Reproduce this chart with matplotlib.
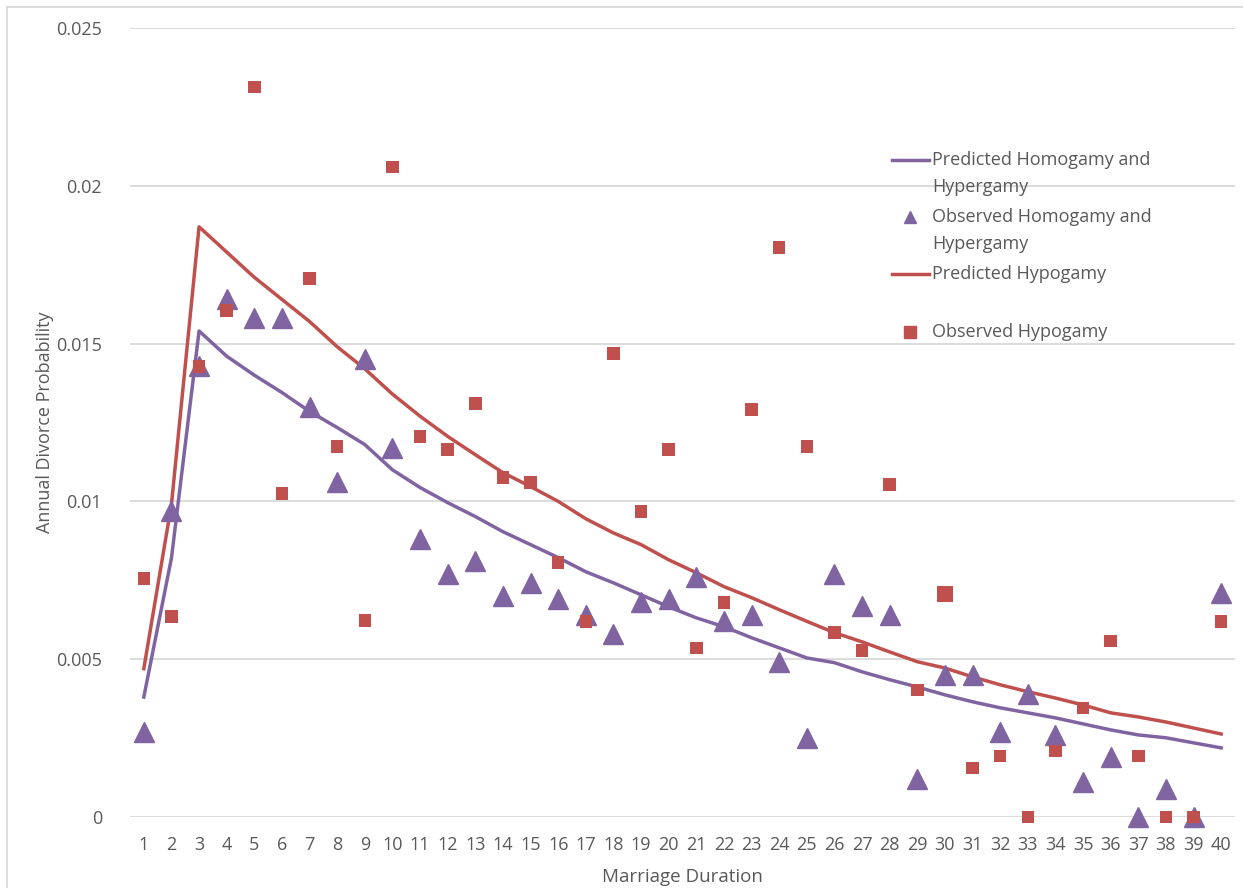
import numpy as np
import matplotlib
matplotlib.use("Agg")
import matplotlib.pyplot as plt
from matplotlib.lines import Line2D
from matplotlib.patches import Rectangle

# marriage duration (years)
duration = list(range(1, 41))

pred_homo_hyper = [0.0038, 0.0082, 0.0154, 0.0146, 0.0140, 0.01345, 0.01285, 0.01234, 0.0118, 0.0110,
                   0.01044, 0.00996, 0.00952, 0.00904, 0.00863, 0.00822, 0.00777, 0.00742, 0.00704, 0.00666,
                   0.00631, 0.00603, 0.00568, 0.00536, 0.00504, 0.00489, 0.0046, 0.00435, 0.00412, 0.00387,
                   0.00365, 0.00346, 0.0033, 0.00314, 0.00295, 0.00276, 0.0026, 0.00251, 0.00235, 0.00219]

obs_homo_hyper = [0.0027, 0.0097, 0.0143, 0.0164, 0.0158, 0.0158, 0.0130, 0.0106, 0.0145, 0.0117,
                  0.0088, 0.0077, 0.0081, 0.0070, 0.0074, 0.0069, 0.0064, 0.0058, 0.0068, 0.0069,
                  0.0076, 0.0062, 0.0064, 0.0049, 0.0025, 0.0077, 0.0067, 0.0064, 0.0012, 0.0045,
                  0.0045, 0.0027, 0.0039, 0.0026, 0.0011, 0.0019, 0.0, 0.0009, 0.0, 0.0071]

pred_hypo = [0.0047, 0.0099, 0.0187, 0.0179, 0.0171, 0.0164, 0.0157, 0.0149, 0.0142, 0.0134,
             0.0127, 0.01206, 0.01148, 0.01091, 0.01047, 0.0100, 0.00945, 0.0090, 0.00863, 0.00815,
             0.00774, 0.0073, 0.00695, 0.00657, 0.0062, 0.00584, 0.00555, 0.00523, 0.00492, 0.00472,
             0.00444, 0.00419, 0.00397, 0.00377, 0.00355, 0.0033, 0.00317, 0.00301, 0.00282, 0.00263]

obs_hypo = [0.00755, 0.00635, 0.01428, 0.01605, 0.02313, 0.01025, 0.01707, 0.01174, 0.00622, 0.02059,
            0.01206, 0.01164, 0.0131, 0.01075, 0.0106, 0.00806, 0.00619, 0.01469, 0.00968, 0.01164,
            0.00536, 0.00679, 0.01291, 0.01805, 0.01174, 0.00584, 0.00527, 0.01053, 0.00403, 0.00708,
            0.00155, 0.00194, 0.0, 0.00209, 0.00346, 0.00558, 0.00194, 0.0, 0.0, 0.00619]

PURPLE = '#8064A2'
RED = '#C0504D'
GRID = '#d9d9d9'
TXT = '#595959'
FONT = 'Open Sans'

plt.rcParams['font.family'] = [FONT, 'DejaVu Sans']

W, H = 1243, 888
fig = plt.figure(figsize=(W / 100, H / 100), dpi=100)
ax = fig.add_axes([130 / W, 1 - 817 / H, (1235 - 130) / W, (817 - 28) / H])

for s in ax.spines.values():
    s.set_visible(False)
ax.set_xlim(0.5, 40.5)
ax.set_ylim(0, 0.025)
ax.set_yticks([0, 0.005, 0.01, 0.015, 0.02, 0.025])
ax.set_yticklabels(['0', '0.005', '0.01', '0.015', '0.02', '0.025'])
ax.set_xticks(duration)
ax.tick_params(length=0, labelsize=13, colors=TXT)
ax.tick_params(axis='x', pad=14)
ax.tick_params(axis='y', pad=20)
ax.grid(axis='y', color=GRID, linewidth=1.3)
ax.set_axisbelow(True)

ax.plot(duration, pred_homo_hyper, color=PURPLE, lw=2.5, zorder=3)
ax.plot(duration, pred_hypo, color=RED, lw=2.5, zorder=3)
ax.plot(duration, obs_homo_hyper, ls='none', marker='^', ms=15, color=PURPLE, clip_on=False, zorder=4)
sq_size = np.full(len(duration), 9.0)
sq_size[29] = 11.5
ax.scatter(duration, obs_hypo, marker='s', s=sq_size ** 2, color=RED, clip_on=False, zorder=5, linewidths=0)

ax.set_xlabel('Marriage Duration', fontsize=13.5, color=TXT, labelpad=10)
ax.set_ylabel('Annual Divorce Probability', fontsize=13, color=TXT, labelpad=2)

# legend drawn by hand so the handles line up with the first text line, as in the original
def fy(px):
    return 1 - px / H

legend_rows = [
    ('line', PURPLE, ['Predicted Homogamy and', 'Hypergamy'], 160),
    ('^', PURPLE, ['Observed Homogamy and', 'Hypergamy'], 217),
    ('line', RED, ['Predicted Hypogamy'], 274),
    ('s', RED, ['Observed Hypogamy'], 332),
]
for kind, col, lines, ypx in legend_rows:
    if kind == 'line':
        fig.add_artist(Line2D([892 / W, 929 / W], [fy(ypx), fy(ypx)], color=col, lw=2.5))
    else:
        fig.add_artist(Line2D([910 / W], [fy(ypx)], marker=kind, ms=8, color=col, ls='none'))
    for i, t in enumerate(lines):
        fig.text(932 / W, fy(ypx + 27 * i), t, fontsize=13, color=TXT, va='center', ha='left')

fig.add_artist(Rectangle((7 / W, -0.05), 1.1, 1 - 7 / H + 0.05, transform=fig.transFigure,
                         fill=False, edgecolor=GRID, lw=1.3))

fig.savefig('out.png', dpi=100)
